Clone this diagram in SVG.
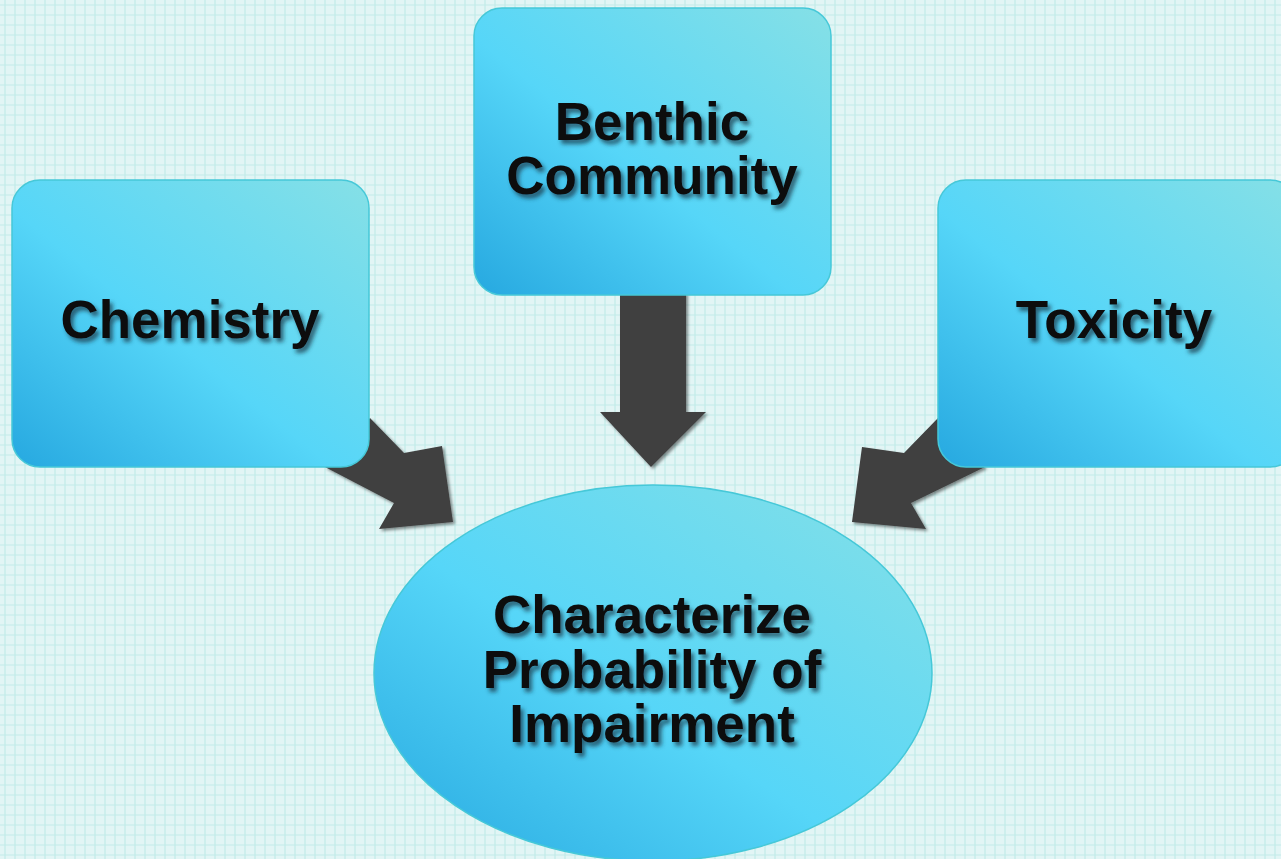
<svg xmlns="http://www.w3.org/2000/svg" width="1281" height="859" viewBox="0 0 1281 859">
<defs>
<pattern id="grid" width="10" height="10" patternUnits="userSpaceOnUse">
<rect width="10" height="10" fill="#e2f5f5"/>
<path d="M5 0V10M0 5H10" stroke="#c2ebe9" stroke-width="1.2"/>
</pattern>
<linearGradient id="g" x1="0" y1="1" x2="1" y2="0">
<stop offset="0" stop-color="#26a8e0"/>
<stop offset="0.45" stop-color="#56d6f8"/>
<stop offset="1" stop-color="#86e0e6"/>
</linearGradient>
<filter id="ts" x="-10%" y="-20%" width="130%" height="150%">
<feDropShadow dx="3" dy="4" stdDeviation="2" flood-color="#1a3a4a" flood-opacity="0.75"/>
</filter>
<filter id="as" x="-10%" y="-10%" width="130%" height="130%">
<feDropShadow dx="2" dy="2" stdDeviation="1.5" flood-color="#000" flood-opacity="0.45"/>
</filter>
<style>
.box{fill:url(#g);stroke:#46c8d8;stroke-width:1.5}
.t{font-family:"Liberation Sans",Arial,sans-serif;font-weight:bold;font-size:53px;fill:#0a0a0a;text-anchor:middle;filter:url(#ts)}
.arr{fill:#404040;filter:url(#as)}
</style>
</defs>
<rect width="1281" height="859" fill="url(#grid)"/>
<g id="connectors">
<polygon class="arr" points="620,292 686,292 686,412 706,412 651,467 600,412 620,412"/>
<polygon class="arr" points="370,418 404,453 442,446 453,522 379,529 394,503 325,467"/>
<polygon class="arr" points="938,418 904,453 862,447 852,522 926,529 911,503 985,467"/>
</g>
<g id="node-benthic">
<rect class="box" x="474" y="8" width="357" height="287" rx="28"/>
<text class="t" x="652" y="140">Benthic</text>
<text class="t" x="652" y="194">Community</text>
</g>
<g id="node-chemistry">
<rect class="box" x="12" y="180" width="357" height="287" rx="28"/>
<text class="t" x="190" y="338">Chemistry</text>
</g>
<g id="node-toxicity">
<rect class="box" x="938" y="180" width="360" height="287" rx="28"/>
<text class="t" x="1114" y="338">Toxicity</text>
</g>
<g id="node-impairment">
<ellipse class="box" cx="653" cy="673" rx="279" ry="188"/>
<text class="t" x="652" y="633">Characterize</text>
<text class="t" x="652" y="688">Probability of</text>
<text class="t" x="652" y="742">Impairment</text>
</g>
</svg>
